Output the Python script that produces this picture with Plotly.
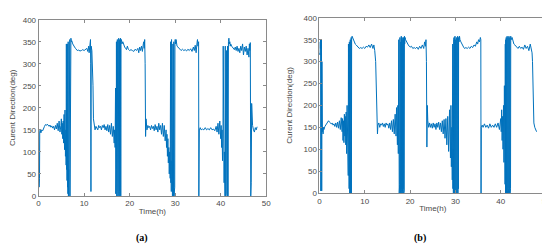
import plotly.graph_objects as go

# ---- Series (a) ----
t_a = [0.0,0.05,0.1,0.15,0.2,0.25,0.35,0.5,0.7,0.9,1.1,1.3,1.5,1.7,1.9,2.1,2.3,2.5,2.7,2.9,3.1,3.3,3.5,3.7,3.9,4.1,4.3,4.5,4.7,4.9,
       5.0,5.1,5.2,5.3,5.4,5.5,5.6,5.7,5.8,5.9,6.0,6.05,6.1,6.15,6.2,6.25,6.3,6.35,6.4,6.45,6.5,6.55,6.6,6.65,6.7,6.75,6.8,6.85,6.9,6.95,
       7.0,7.1,7.2,7.3,7.5,7.7,7.9,8.1,8.3,8.5,8.8,9.1,9.4,9.7,10.0,10.3,10.6,10.8,11.0,11.1,11.2,11.3,11.4,11.45,11.5,11.55,11.7,11.85,11.95,
       12.05,12.2,12.4,12.6,12.8,13.0,13.2,13.4,13.6,13.8,14.0,14.2,14.4,14.6,14.8,15.0,15.2,15.4,15.6,15.8,16.0,16.2,16.4,16.6,16.7,16.8,16.9,16.95,
       17.0,17.05,17.1,17.15,17.2,17.25,17.3,17.35,17.4,17.45,17.5,17.6,17.65,17.7,17.75,17.8,17.85,17.9,17.95,18.0,18.05,18.1,18.2,18.3,18.5,18.7,18.9,
       19.1,19.3,19.5,19.7,20.0,20.3,20.6,20.9,21.2,21.5,21.8,22.0,22.2,22.4,22.6,22.8,23.0,23.1,23.2,23.3,23.4,23.5,23.6,23.8,
       24.0,24.2,24.4,24.6,24.8,25.0,25.2,25.4,25.6,25.8,26.0,26.2,26.4,26.6,26.8,27.0,27.2,27.4,27.6,27.8,28.0,28.1,28.2,28.3,28.4,28.5,28.6,28.7,28.8,28.9,
       29.0,29.05,29.1,29.15,29.2,29.25,29.3,29.4,29.5,29.55,29.6,29.65,29.7,29.75,29.85,29.9,29.95,30.0,30.1,30.2,30.4,30.6,30.8,
       31.0,31.3,31.6,31.9,32.2,32.5,32.8,33.1,33.4,33.7,34.0,34.2,34.4,34.6,34.8,34.9,35.0,35.05,35.1,35.15,35.2,35.3,35.5,35.7,
       36.0,36.3,36.6,36.9,37.2,37.5,37.8,38.1,38.4,38.7,39.0,39.2,39.4,39.6,39.8,40.0,40.1,40.2,40.3,40.4,40.5,40.55,40.6,40.7,40.75,40.8,40.85,40.9,40.95,
       41.0,41.05,41.1,41.15,41.2,41.3,41.35,41.4,41.45,41.5,41.55,41.6,41.7,41.8,41.9,42.0,42.1,42.2,42.4,42.6,42.8,43.0,43.2,43.4,43.6,43.8,
       44.0,44.2,44.4,44.6,44.8,45.0,45.2,45.4,45.6,45.8,46.0,46.2,46.3,46.4,46.5,46.6,46.7,46.8,46.9,47.0,47.2,47.4,47.6,47.8,48.0]
dir_a = [150,60,20,130,40,145,150,143,150,148,155,158,162,160,163,160,158,161,156,159,154,158,150,160,152,165,148,170,145,160,
         175,140,165,130,170,120,185,105,195,90,150,70,345,60,100,35,345,20,80,5,350,0,60,0,340,20,0,355,0,350,
         340,358,350,352,345,340,338,335,332,330,331,329,330,332,330,333,335,328,340,325,345,335,355,300,10,340,330,300,250,
         175,160,150,158,155,150,160,155,158,150,160,155,162,150,158,148,162,145,160,140,165,135,158,120,150,110,245,5,
         180,60,350,0,300,10,355,20,0,350,5,358,0,350,10,355,0,345,5,358,0,350,355,345,350,340,338,
         335,332,340,333,330,332,330,328,333,330,335,325,338,330,340,328,345,350,335,355,300,135,175,150,
         160,155,158,150,160,153,158,148,162,150,158,145,165,150,160,140,165,135,160,125,150,110,140,90,130,75,110,50,100,40,
         350,30,80,10,355,0,60,0,345,5,100,0,350,0,350,20,345,355,345,355,340,338,335,
         332,330,333,330,332,329,333,330,334,328,338,330,342,325,348,355,340,0,20,350,0,150,155,150,
         152,150,155,150,153,150,155,150,152,148,158,145,165,140,170,130,160,110,150,80,130,340,60,120,30,100,10,80,0,
         340,40,0,60,5,330,0,50,0,340,20,0,350,358,345,350,340,345,340,338,335,332,338,330,340,328,
         335,325,340,330,345,320,338,328,340,320,335,315,345,330,348,0,30,210,175,160,150,145,155,150,157]

# ---- Series (b) ----
t_b = [0.0,0.05,0.1,0.15,0.2,0.25,0.3,0.35,0.4,0.45,0.5,0.55,0.6,0.65,0.7,0.8,0.9,1.0,1.2,1.4,1.6,1.8,2.0,2.2,2.4,2.6,2.8,3.0,3.2,3.4,3.6,3.8,
       4.0,4.2,4.4,4.6,4.8,5.0,5.1,5.2,5.3,5.4,5.5,5.6,5.7,5.8,5.9,6.0,6.1,6.2,6.3,6.35,6.4,6.45,6.5,6.55,6.6,6.65,6.7,6.75,6.8,6.85,6.9,6.95,
       7.0,7.05,7.1,7.2,7.3,7.5,7.7,7.9,8.1,8.3,8.5,8.8,9.1,9.4,9.7,10.0,10.3,10.6,10.9,11.2,11.5,11.8,12.0,12.2,12.4,12.5,12.6,12.7,12.8,12.9,
       13.1,13.3,13.5,13.7,13.9,14.1,14.3,14.5,14.7,14.9,15.1,15.3,15.5,15.7,15.9,16.1,16.3,16.5,16.7,16.9,17.0,17.1,17.2,17.3,17.4,17.5,17.55,
       17.6,17.65,17.7,17.75,17.8,17.85,17.9,17.95,18.0,18.05,18.1,18.15,18.2,18.25,18.3,18.35,18.4,18.45,18.5,18.55,18.6,18.65,18.7,18.75,18.8,18.9,
       19.0,19.2,19.4,19.6,19.8,20.0,20.3,20.6,20.9,21.2,21.5,21.8,22.1,22.4,22.7,23.0,23.2,23.4,23.5,23.6,23.7,23.8,23.9,
       24.1,24.3,24.5,24.7,24.9,25.1,25.3,25.5,25.7,25.9,26.1,26.3,26.5,26.7,26.9,27.1,27.3,27.5,27.7,27.9,28.1,28.3,28.5,28.7,28.9,
       29.0,29.1,29.2,29.3,29.4,29.45,29.5,29.55,29.6,29.65,29.7,29.75,29.8,29.85,29.9,29.95,30.0,30.05,30.1,30.15,30.2,30.25,30.3,30.35,30.4,30.45,30.5,30.55,30.6,30.65,30.7,30.8,30.9,
       31.0,31.2,31.4,31.6,31.8,32.0,32.3,32.6,32.9,33.2,33.5,33.8,34.1,34.4,34.7,34.9,35.1,35.3,35.5,35.6,35.65,35.7,35.9,
       36.1,36.4,36.7,37.0,37.3,37.6,37.9,38.2,38.5,38.8,39.1,39.4,39.7,40.0,40.1,40.2,40.3,40.4,40.5,40.6,40.7,40.8,40.85,40.9,40.95,
       41.0,41.05,41.1,41.15,41.2,41.25,41.3,41.35,41.4,41.45,41.5,41.55,41.6,41.65,41.7,41.75,41.8,41.85,41.9,41.95,42.0,42.05,42.1,42.15,42.2,42.3,42.5,42.7,42.9,
       43.1,43.3,43.5,43.8,44.1,44.4,44.7,45.0,45.3,45.6,45.9,46.2,46.5,46.7,46.9,47.0,47.2,47.3,47.5,47.7,47.9]
dir_b = [320,340,315,345,330,350,5,340,10,350,5,300,20,140,150,135,150,145,152,155,158,162,165,162,160,158,160,155,158,152,160,150,
         162,148,165,145,172,140,170,120,165,115,180,130,175,110,185,90,200,60,150,40,340,30,100,10,345,0,200,5,350,0,345,10,
         355,0,350,358,355,350,345,340,338,335,333,330,332,330,333,330,335,333,338,332,340,330,338,325,300,260,200,150,135,155,
         160,150,158,155,160,152,158,150,160,155,158,148,160,145,165,140,168,135,180,130,195,150,110,200,90,350,60,
         0,340,20,355,0,350,5,345,0,358,10,350,0,355,5,340,0,350,10,355,0,345,5,358,340,355,
         350,345,340,338,335,333,335,330,332,330,333,328,335,330,338,330,345,335,350,300,105,200,165,
         150,160,150,158,148,160,150,158,145,160,150,162,145,160,140,165,135,168,125,170,110,175,95,190,80,
         200,60,150,30,340,10,100,0,350,5,355,0,345,10,358,0,350,5,340,0,355,10,350,0,345,5,358,0,350,10,355,345,358,
         350,345,340,336,333,330,332,330,333,330,335,332,338,335,345,340,350,345,355,350,0,150,155,
         150,158,150,155,148,158,150,155,150,158,150,160,145,170,140,190,120,175,100,200,70,245,40,160,20,
         340,0,350,5,355,0,345,10,358,0,350,5,355,0,340,10,358,0,350,5,355,0,345,10,358,350,355,345,340,
         338,335,333,330,335,330,333,328,338,330,335,325,340,330,320,300,230,160,150,145,140]

x_ticks = [0, 10, 20, 30, 40, 50]
y_ticks = [0, 50, 100, 150, 200, 250, 300, 350, 400]
y_title = "Curent Direction(deg)"
x_title = "Time(h)"
panel_labels = ["(a)", "(b)"]

LINE = "#0072BD"
AX = "#8a8a8a"
tick_font = dict(family="Liberation Sans, Arial", size=8, color="#4a4a4a")

fig = go.Figure()
fig.add_trace(go.Scatter(x=t_a, y=dir_a, mode="lines", line=dict(color=LINE, width=1.0),
                         xaxis="x", yaxis="y", showlegend=False))
fig.add_trace(go.Scatter(x=t_b, y=dir_b, mode="lines", line=dict(color=LINE, width=1.0),
                         xaxis="x2", yaxis="y2", showlegend=False))

W, H = 550, 244
def xd(a, b): return [a / W, b / W]
def yd(top, bot): return [1 - bot / H, 1 - top / H]

common_x = dict(range=[0, 50], tickvals=x_ticks, ticks="inside", ticklen=3, tickcolor=AX,
                showline=True, linecolor=AX, linewidth=0.8, mirror="allticks", showgrid=False,
                zeroline=False, tickfont=tick_font,
                title=dict(text=x_title, font=tick_font, standoff=0))
common_y = dict(range=[0, 400], tickvals=y_ticks, ticks="inside", ticklen=3, tickcolor=AX,
                showline=True, linecolor=AX, linewidth=0.8, mirror="allticks", showgrid=False,
                zeroline=False, tickfont=tick_font,
                title=dict(text=y_title, font=tick_font, standoff=9))

fig.update_layout(
    width=W, height=H, margin=dict(l=0, r=0, t=0, b=0),
    paper_bgcolor="white", plot_bgcolor="white",
    xaxis=dict(domain=xd(28, 259), anchor="y", **common_x),
    yaxis=dict(domain=yd(8, 191), anchor="x", **common_y),
    xaxis2=dict(domain=xd(313, 543), anchor="y2", **common_x),
    yaxis2=dict(domain=yd(6, 188), anchor="x2", **common_y),
    annotations=[
        dict(text="<b>" + panel_labels[0] + "</b>", x=133 / W, y=1 - 235 / H, xref="paper", yref="paper",
             xanchor="center", yanchor="middle", showarrow=False,
             font=dict(family="Liberation Serif, Times New Roman", size=10, color="black")),
        dict(text="<b>" + panel_labels[1] + "</b>", x=415 / W, y=1 - 235 / H, xref="paper", yref="paper",
             xanchor="center", yanchor="middle", showarrow=False,
             font=dict(family="Liberation Serif, Times New Roman", size=10, color="black")),
    ],
)

fig.write_html("out.html")
